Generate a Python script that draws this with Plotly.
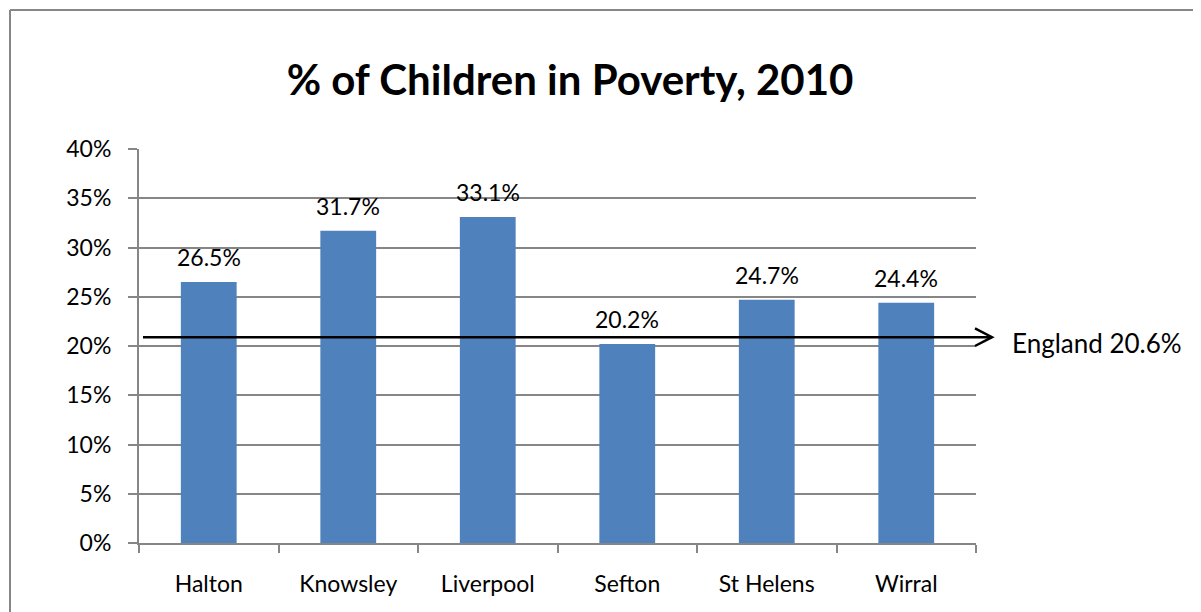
import plotly.graph_objects as go

# data
areas = ['Halton', 'Knowsley', 'Liverpool', 'Sefton', 'St Helens', 'Wirral']
poverty_pct = [26.5, 31.7, 33.1, 20.2, 24.7, 24.4]
england_pct = 20.6
england_line_y = 20.9  # where the arrow is actually drawn in the picture
y_ticks = [0, 5, 10, 15, 20, 25, 30, 35, 40]

font_name = 'Lato, Open Sans, sans-serif'
bar_blue = '#4F81BD'
grey = '#868686'

fig = go.Figure()

fig.add_trace(go.Bar(
    x=areas,
    y=poverty_pct,
    marker=dict(color=bar_blue, line=dict(width=0)),
    width=0.4,
    hoverinfo='skip',
))

# value labels above the bars
for a, v in zip(areas, poverty_pct):
    fig.add_annotation(x=a, y=v, text=f'{v:.1f}%', showarrow=False,
                       yanchor='bottom', yshift=9,
                       font=dict(size=23, color='black', family=font_name))

# England reference arrow (plot width in px used to convert paper coords)
plot_w = 837
x_start = 4 / plot_w
x_tip = 1 + 16 / plot_w
x_back = 1 - 1 / plot_w
arm = 0.9

fig.add_shape(type='line', xref='paper', yref='y',
              x0=x_start, x1=x_tip, y0=england_line_y, y1=england_line_y,
              line=dict(color='black', width=2.5), layer='above')
fig.add_shape(type='path', xref='paper', yref='y',
              path=f'M {x_back},{england_line_y + arm} L {x_tip},{england_line_y} '
                   f'L {x_back},{england_line_y - arm}',
              line=dict(color='black', width=2.5), layer='above')
fig.add_annotation(xref='paper', yref='y', x=1 + 34 / plot_w, y=england_line_y,
                   text=f'England {england_pct}%', showarrow=False,
                   xanchor='left', yanchor='middle', yshift=-6,
                   font=dict(size=26, color='black', family=font_name))

# outer chart frame (top and left edges only visible)
fig.add_shape(type='line', xref='paper', yref='paper',
              x0=-129 / plot_w, x1=1.4, y0=533 / 394, y1=533 / 394,
              line=dict(color=grey, width=2))
fig.add_shape(type='line', xref='paper', yref='paper',
              x0=-129 / plot_w, x1=-129 / plot_w, y0=533 / 394, y1=-0.3,
              line=dict(color=grey, width=2))

# page has an 8px body margin, so the figure is a bit smaller and shifted
fig.update_layout(
    title=dict(text='<b>% of Children in Poverty, 2010</b>', x=0.515, xref='paper',
               xanchor='center', y=1 - 72 / 604, yanchor='middle',
               font=dict(size=42, color='black', family=font_name)),
    width=1193, height=604,
    margin=dict(l=131, r=225, t=141, b=69),
    paper_bgcolor='white', plot_bgcolor='white',
    showlegend=False,
    font=dict(family=font_name, color='black'),
    xaxis=dict(
        tickson='boundaries', ticks='outside', ticklen=8, tickwidth=2,
        tickcolor=grey, showline=True, linecolor=grey, linewidth=2,
        showgrid=False, ticklabelstandoff=19,
        tickfont=dict(size=23, color='black'),
    ),
    yaxis=dict(
        range=[0, 40], tickvals=y_ticks, ticktext=[f'{t}%' for t in y_ticks],
        ticks='outside', ticklen=9, tickwidth=2, tickcolor=grey,
        showline=True, linecolor=grey, linewidth=2,
        showgrid=True, gridcolor=grey, gridwidth=2,
        zeroline=False, ticklabelstandoff=12,
        tickfont=dict(size=23, color='black'),
    ),
)

fig.write_html('out.html')
